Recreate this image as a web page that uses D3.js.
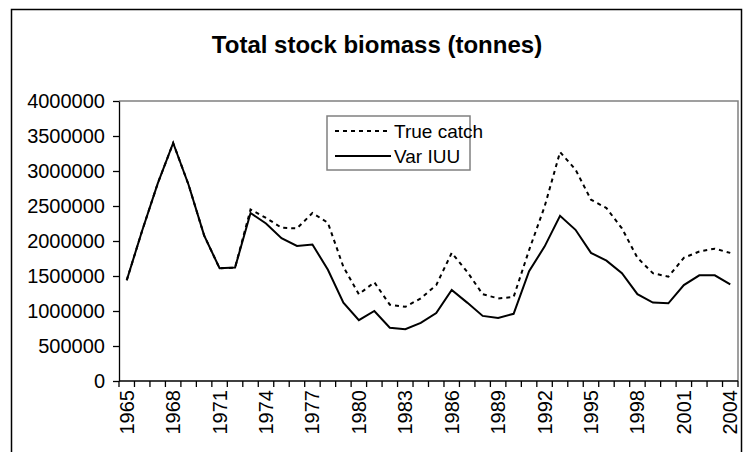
<!DOCTYPE html>
<html>
<head>
<meta charset="utf-8">
<script src="https://cdn.jsdelivr.net/npm/d3@7"></script>
<style>
  body { margin: 0; background: #fff; }
  svg { display: block; font-family: "Liberation Sans", Arial, sans-serif; }
</style>
</head>
<body>
<div id="chart"></div>
<script>
// categories
const years = [1965, 1966, 1967, 1968, 1969, 1970, 1971, 1972, 1973, 1974,
               1975, 1976, 1977, 1978, 1979, 1980, 1981, 1982, 1983, 1984,
               1985, 1986, 1987, 1988, 1989, 1990, 1991, 1992, 1993, 1994,
               1995, 1996, 1997, 1998, 1999, 2000, 2001, 2002, 2003, 2004];

// series values (tonnes)
const trueCatch = [1440000, 2150000, 2820000, 3400000, 2800000, 2080000, 1610000, 1620000, 2450000, 2330000,
                   2190000, 2180000, 2400000, 2260000, 1630000, 1240000, 1410000, 1090000, 1060000, 1180000,
                   1370000, 1830000, 1560000, 1240000, 1180000, 1200000, 1870000, 2490000, 3270000, 3020000,
                   2590000, 2470000, 2180000, 1760000, 1540000, 1490000, 1760000, 1850000, 1890000, 1830000];

const varIUU = [1440000, 2150000, 2820000, 3400000, 2800000, 2080000, 1610000, 1620000, 2400000, 2250000,
                2040000, 1930000, 1950000, 1590000, 1120000, 870000, 1000000, 760000, 740000, 830000,
                970000, 1300000, 1120000, 930000, 900000, 960000, 1570000, 1920000, 2360000, 2160000,
                1830000, 1720000, 1540000, 1240000, 1120000, 1110000, 1370000, 1510000, 1510000, 1380000];

// tick labels
const yTicks = [0, 500000, 1000000, 1500000, 2000000, 2500000, 3000000, 3500000, 4000000];
const xLabelYears = [1965, 1968, 1971, 1974, 1977, 1980, 1983, 1986, 1989, 1992, 1995, 1998, 2001, 2004];

const titleText = "Total stock biomass (tonnes)";
const seriesNames = ["True catch", "Var IUU"];

const W = 744, H = 452;
const plot = { left: 119, right: 738, top: 101, bottom: 381 };

const svg = d3.select("#chart").append("svg")
    .attr("width", W)
    .attr("height", H);

// outer chart frame
svg.append("rect")
    .attr("x", 11.5).attr("y", 9.5)
    .attr("width", 730).attr("height", 460)
    .attr("fill", "#fff")
    .attr("stroke", "#000")
    .attr("stroke-width", 1.5);

svg.append("text")
    .attr("x", 377)
    .attr("y", 53)
    .attr("text-anchor", "middle")
    .attr("font-size", 24)
    .attr("font-weight", "bold")
    .text(titleText);

const x = d3.scaleBand()
    .domain(years)
    .range([plot.left, plot.right]);

const y = d3.scaleLinear()
    .domain([0, 4000000])
    .range([plot.bottom, plot.top]);

const cx = d => x(d) + x.bandwidth() / 2;

// plot area border (top + right are grey)
svg.append("path")
    .attr("d", `M${plot.left},${plot.top}H${plot.right}V${plot.bottom}`)
    .attr("fill", "none")
    .attr("stroke", "#808080")
    .attr("stroke-width", 1.5);

// y axis
const yAxis = d3.axisLeft(y)
    .tickValues(yTicks)
    .tickFormat(d3.format("d"))
    .tickSizeInner(6)
    .tickSizeOuter(0)
    .tickPadding(8);

const gy = svg.append("g")
    .attr("transform", `translate(${plot.left},0)`)
    .call(yAxis);
gy.selectAll("text").attr("font-size", 20).attr("fill", "#000").attr("font-family", null);
gy.selectAll("line, path").attr("stroke", "#000").attr("stroke-width", 1.3);

// x axis: ticks at category boundaries
const gx = svg.append("g")
    .attr("transform", `translate(0,${plot.bottom})`);
gx.append("line")
    .attr("x1", plot.left).attr("x2", plot.right)
    .attr("stroke", "#000").attr("stroke-width", 1.3);
gx.selectAll("line.tick")
    .data(years.concat([null]))
    .join("line")
    .attr("class", "tick")
    .attr("x1", (d, i) => plot.left + i * x.step())
    .attr("x2", (d, i) => plot.left + i * x.step())
    .attr("y1", 0).attr("y2", 6)
    .attr("stroke", "#000").attr("stroke-width", 1.3);
gx.selectAll("text")
    .data(xLabelYears)
    .join("text")
    .attr("transform", d => `translate(${cx(d) + 7},9) rotate(-90)`)
    .attr("text-anchor", "end")
    .attr("font-size", 20)
    .text(d => d);

// lines
const line = d3.line()
    .x((d, i) => cx(years[i]))
    .y(d => y(d));

svg.append("path")
    .datum(trueCatch)
    .attr("d", line)
    .attr("fill", "none")
    .attr("stroke", "#000")
    .attr("stroke-width", 2)
    .attr("stroke-dasharray", "4,4");

svg.append("path")
    .datum(varIUU)
    .attr("d", line)
    .attr("fill", "none")
    .attr("stroke", "#000")
    .attr("stroke-width", 2);

// legend
const lg = svg.append("g").attr("transform", "translate(327,116)");
lg.append("rect")
    .attr("width", 143).attr("height", 54)
    .attr("fill", "#fff")
    .attr("stroke", "#808080")
    .attr("stroke-width", 1.5);
const items = lg.selectAll("g.item")
    .data(seriesNames)
    .join("g")
    .attr("class", "item")
    .attr("transform", (d, i) => `translate(0,${15 + i * 25})`);
items.append("line")
    .attr("x1", 8).attr("x2", 64)
    .attr("stroke", "#000")
    .attr("stroke-width", 2)
    .attr("stroke-dasharray", (d, i) => i === 0 ? "4,4" : null);
items.append("text")
    .attr("x", 67).attr("y", 7)
    .attr("font-size", 19)
    .text(d => d);
</script>
</body>
</html>
